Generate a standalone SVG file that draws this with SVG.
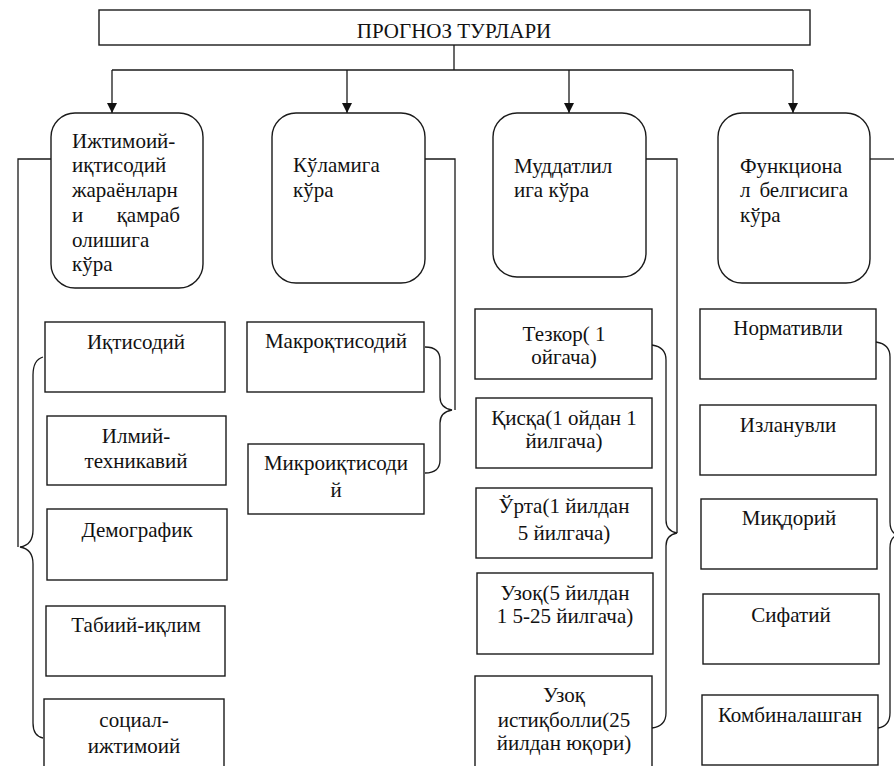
<svg xmlns="http://www.w3.org/2000/svg" width="894" height="766" viewBox="0 0 894 766" font-family="'Liberation Serif', 'DejaVu Serif', serif">
<style>
.bx{fill:none;stroke:#1a1a1a;stroke-width:1.4}
.ln{fill:none;stroke:#1a1a1a;stroke-width:1.3}
text{font-family:'Liberation Serif','DejaVu Serif',serif;font-size:21px;fill:#111}
.c{text-anchor:middle}
.e{text-anchor:end}
</style>
<defs>
<marker id="ar" viewBox="0 0 10 10" refX="10" refY="5" markerWidth="13" markerHeight="10" markerUnits="userSpaceOnUse" orient="auto">
<path d="M0,0 L10,5 L0,10 Z" fill="#111"/>
</marker>
</defs>
<rect width="894" height="766" fill="#fff"/>

<g id="top">
<rect class="bx" x="99" y="10" width="711" height="35"/>
<text class="c" x="454" y="38">ПРОГНОЗ ТУРЛАРИ</text>
</g>

<g id="connectors">
<path class="ln" d="M454,45 V70 M112,70 H793"/>
<path class="ln" d="M112,70 V113" marker-end="url(#ar)"/>
<path class="ln" d="M347,70 V113" marker-end="url(#ar)"/>
<path class="ln" d="M569,70 V113" marker-end="url(#ar)"/>
<path class="ln" d="M793,70 V113" marker-end="url(#ar)"/>
<path class="ln" d="M51,159 H18 V547"/>
<path class="ln" d="M425,159 H455 V410"/>
<path class="ln" d="M646,159 H677 V533"/>
<path class="ln" d="M870,159 H894"/>
<path class="ln" d="M43,357 Q33,360 33,375 V530 Q33,545 20,547 Q33,549 33,564 V723 Q33,736 43,738"/>
<path class="ln" d="M425,347 Q440,347 440,360 V397 Q440,408 452,410 Q440,412 440,423 V460 Q440,473 425,473"/>
<path class="ln" d="M652,345 Q666,347 666,360 V520 Q666,531 677,533 Q666,535 666,546 V713 Q666,726 652,728"/>
<path class="ln" d="M876,342 Q890,344 890,357 V522 Q890,533 898,535 Q890,537 890,548 V713 Q890,726 878,728"/>
</g>

<g id="c1">
<rect class="bx" x="51" y="113" width="152" height="175" rx="24"/>
<text x="72" y="148">Ижтимоий-</text>
<text x="72" y="172">иқтисодий</text>
<text x="72" y="197">жараёнларн</text>
<text x="72" y="222">и</text><text class="e" x="180" y="222">қамраб</text>
<text x="72" y="247">олишига</text>
<text x="72" y="271">кўра</text>
</g>
<g id="c2">
<rect class="bx" x="272" y="113" width="153" height="170" rx="24"/>
<text x="293" y="172">Кўламига</text>
<text x="293" y="197">кўра</text>
</g>
<g id="c3">
<rect class="bx" x="493" y="113" width="153" height="164" rx="24"/>
<text x="514" y="173">Муддатлил</text>
<text x="514" y="197">ига кўра</text>
</g>
<g id="c4">
<rect class="bx" x="718" y="113" width="152" height="170" rx="24"/>
<text x="740" y="173">Функциона</text>
<text x="740" y="197">л</text><text class="e" x="848" y="197">белгисига</text>
<text x="740" y="222">кўра</text>
</g>

<g id="n11"><rect class="bx" x="45" y="322" width="180" height="70"/><text class="c" x="136" y="349">Иқтисодий</text></g>
<g id="n12"><rect class="bx" x="47" y="416" width="179" height="69"/><text class="c" x="136" y="443">Илмий-</text><text class="c" x="136" y="468">техникавий</text></g>
<g id="n13"><rect class="bx" x="47" y="509" width="180" height="71"/><text class="c" x="137" y="537">Демографик</text></g>
<g id="n14"><rect class="bx" x="46" y="606" width="179" height="70"/><text class="c" x="136" y="632">Табиий-иқлим</text></g>
<g id="n15"><rect class="bx" x="44" y="699" width="180" height="75"/><text class="c" x="134" y="727">социал-</text><text class="c" x="134" y="753">ижтимоий</text></g>

<g id="n21"><rect class="bx" x="247" y="322" width="177" height="70"/><text class="c" x="336" y="348">Макроқтисодий</text></g>
<g id="n22"><rect class="bx" x="248" y="444" width="176" height="70"/><text class="c" x="336" y="470">Микроиқтисоди</text><text class="c" x="336" y="497">й</text></g>

<g id="n31"><rect class="bx" x="475" y="309" width="177" height="70"/><text class="c" x="564" y="341">Тезкор( 1</text><text class="c" x="564" y="364">ойгача)</text></g>
<g id="n32"><rect class="bx" x="476" y="398" width="176" height="70"/><text class="c" x="564" y="425">Қисқа(1 ойдан 1</text><text class="c" x="564" y="448">йилгача)</text></g>
<g id="n33"><rect class="bx" x="476" y="488" width="176" height="70"/><text class="c" x="564" y="513">Ўрта(1 йилдан</text><text class="c" x="564" y="540">5 йилгача)</text></g>
<g id="n34"><rect class="bx" x="477" y="573" width="176" height="81"/><text class="c" x="565" y="600">Узоқ(5 йилдан</text><text class="c" x="565" y="623">1 5-25 йилгача)</text></g>
<g id="n35"><rect class="bx" x="475" y="676" width="177" height="98"/><text class="c" x="564" y="702">Узоқ</text><text class="c" x="564" y="727">истиқболли(25</text><text class="c" x="564" y="750">йилдан юқори)</text></g>

<g id="n41"><rect class="bx" x="700" y="309" width="176" height="70"/><text class="c" x="788" y="335">Нормативли</text></g>
<g id="n42"><rect class="bx" x="700" y="405" width="176" height="70"/><text class="c" x="788" y="432">Изланувли</text></g>
<g id="n43"><rect class="bx" x="701" y="499" width="176" height="70"/><text class="c" x="789" y="525">Миқдорий</text></g>
<g id="n44"><rect class="bx" x="703" y="594" width="176" height="70"/><text class="c" x="791" y="622">Сифатий</text></g>
<g id="n45"><rect class="bx" x="702" y="695" width="176" height="70"/><text class="c" x="790" y="722">Комбиналашган</text></g>
</svg>
